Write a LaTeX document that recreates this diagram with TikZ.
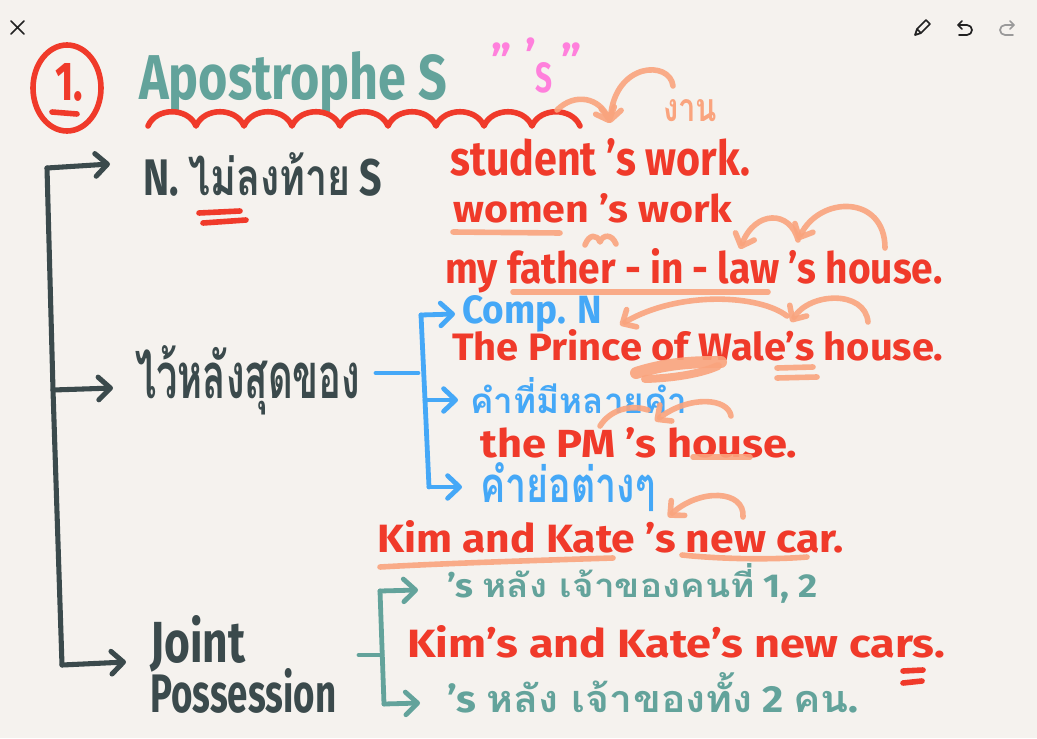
\documentclass[tikz,border=0pt]{standalone}
\usepackage{fontspec}
\setmainfont{Fira Sans}
\newfontfamily\thaifont[Script=Thai]{Loma}
\usetikzlibrary{arrows.meta}
\newlength\pxu
\setlength\pxu{0.75pt}
\newcommand\fitt[3]{\resizebox{#1\pxu}{#2\pxu}{#3}}
\newcommand\tha[1]{{\thaifont #1}}
\definecolor{bgc}{HTML}{F5F2EE}
\definecolor{darkc}{HTML}{3B4A4C}
\definecolor{tealc}{HTML}{63A39B}
\definecolor{redc}{HTML}{F03A2A}
\definecolor{orangec}{HTML}{FAA47E}
\definecolor{bluec}{HTML}{45A8F7}
\definecolor{pinkc}{HTML}{FF80DC}
\definecolor{iconc}{HTML}{222222}
\definecolor{icongray}{HTML}{9A9A9A}
\tikzset{
  txt/.style={anchor=base west, inner sep=0pt, font=\bfseries},
  darkpen/.style={draw=darkc, line width=3.8pt, line cap=round, line join=round},
  bluepen/.style={draw=bluec, line width=3.6pt, line cap=round, line join=round},
  tealpen/.style={draw=tealc, line width=3.6pt, line cap=round, line join=round},
  redpen/.style={draw=redc, line width=4.2pt, line cap=round, line join=round},
  orpen/.style={draw=orangec, line width=4.2pt, line cap=round, line join=round, opacity=0.9},
  iconpen/.style={draw=iconc, line width=1.3pt, line cap=round, line join=round},
  barb/.style={-{Straight Barb[length=9pt,width=17pt,round]}},
  obarb/.style={-{Straight Barb[length=8pt,width=15pt,round]}},
  pinkmark/.style={inner sep=0pt, text=pinkc, font=\bfseries\fontsize{34}{34}\selectfont},
}
\begin{document}
\begin{tikzpicture}[x=0.75pt,y=-0.75pt]
\fill[bgc] (0,0) rectangle (1037,738);
\useasboundingbox (0,0) rectangle (1037,738);

% icons
\draw[iconpen] (11,21) -- (24,34) (24,21) -- (11,34);
\draw[iconpen] (915,35) -- (917,29) -- (926,20) -- (930,24) -- (921,33) -- cycle (917,29) -- (921,33);
\draw[iconpen] (962,21) -- (958,25) -- (962,29) (958,25) -- (967,25) arc[start angle=-90, end angle=90, radius=5] -- (959,35);
\draw[iconpen, draw=icongray] (1010,21) -- (1014,25) -- (1010,29) (1014,25) -- (1005,25) arc[start angle=-90, end angle=-270, radius=5] -- (1013,35);

% title
\draw[redpen] (67,88) ellipse [x radius=34, y radius=43];
\draw[redpen] (52,112) -- (77,114);
\node[txt, text=redc] (one) at (55,100) {\fitt{28}{37}{1.}};
\node[txt, text=tealc] (title) at (139,100) {\fitt{308}{48}{Apostrophe S}};
\draw[redpen] (148,126) \foreach \i in {0,...,8} { .. controls ({156+\i*48},107) and ({188+\i*48},107) .. ({196+\i*48},126) };

% pink
\node[pinkmark] (pq1) at (502,60) {"};
\node[pinkmark] (pap) at (531,55) {’};
\node[txt, text=pinkc] (ps) at (535,93) {\fitt{17}{30}{S}};
\node[pinkmark] (pq2) at (572,60) {"};

% orange annotation near title
\node[txt, text=orangec] (ngan) at (663,122) {\fitt{54}{22}{\tha{งาน}}};
\coordinate (oa1) at (557,110);
\coordinate (oa2) at (673,86);
\coordinate (oat) at (610,123);
\draw[orpen, obarb] (oa1) .. controls (575,92) and (600,98) .. (oat);
\draw[orpen, obarb] (oa2) .. controls (670,60) and (615,62) .. (oat);

% left dark bracket
\coordinate (btop) at (47,168);
\coordinate (bmid) at (53,390);
\coordinate (bbot) at (62,665);
\draw[darkpen] (btop) -- (bmid) -- (bbot);
\coordinate (a1) at (110,164);
\coordinate (a2) at (113,388);
\coordinate (a3) at (126,662);
\draw[darkpen, barb] (btop) -- (a1);
\draw[darkpen, barb] (bmid) -- (a2);
\draw[darkpen, barb] (bbot) -- (a3);

% level-1 labels
\node[txt, text=darkc] (n1) at (143,195) {\fitt{239}{43}{N. \tha{ไม่ลงท้าย} S}};
\draw[redpen] (199,213) -- (240,211) (203,223) -- (246,220);
\node[txt, text=darkc] (n2) at (135,398) {\fitt{225}{53}{\tha{ไว้หลังสุดของ}}};
\node[txt, text=darkc] (n3a) at (150,662) {\fitt{95}{47}{Joint}};
\node[txt, text=darkc] (n3b) at (150,712) {\fitt{186}{44}{Possession}};

% blue bracket
\coordinate (bl0) at (376,373);
\coordinate (bl1) at (418,373);
\coordinate (blt) at (421,315);
\coordinate (blm) at (425,400);
\coordinate (blb) at (429,487);
\draw[bluepen] (bl0) -- (bl1);
\draw[bluepen] (blt) -- (blm) -- (blb);
\coordinate (c1a) at (455,314);
\coordinate (c2a) at (458,400);
\coordinate (c3a) at (462,487);
\draw[bluepen, barb] (blt) -- (c1a);
\draw[bluepen, barb] (blm) -- (c2a);
\draw[bluepen, barb] (blb) -- (c3a);
\node[txt, text=bluec] (c1) at (462,323) {\fitt{140}{28}{Comp. N}};
\node[txt, text=bluec] (c2) at (470,413) {\fitt{217}{36}{\tha{คำที่มีหลายคำ}}};
\node[txt, text=bluec] (c3) at (480,502) {\fitt{175}{40}{\tha{คำย่อต่างๆ}}};

% teal bracket
\coordinate (tl0) at (359,655);
\coordinate (tl1) at (382,655);
\coordinate (tlt) at (380,591);
\coordinate (tlb) at (384,704);
\draw[tealpen] (tl0) -- (tl1);
\draw[tealpen] (tlt) -- (tlb);
\coordinate (g1a) at (418,590);
\coordinate (g2a) at (420,703);
\draw[tealpen, barb] (tlt) -- (g1a);
\draw[tealpen, barb] (tlb) -- (g2a);
\node[txt, text=tealc] (g1) at (447,597) {\fitt{370}{34}{’s \tha{หลัง เจ้าของคนที่} 1, 2}};
\node[txt, text=tealc] (g2) at (447,712) {\fitt{411}{40}{’s \tha{หลัง เจ้าของทั้ง} 2 \tha{คน}.}};

% red examples
\node[txt, text=redc] (e1) at (450,175) {\fitt{300}{37}{student ’s work.}};
\node[txt, text=redc] (e2) at (453,222) {\fitt{279}{29}{women ’s work}};
\node[txt, text=redc] (e3) at (445,283) {\fitt{497}{35}{my father - in - law ’s house.}};
\node[txt, text=redc] (e4) at (452,360) {\fitt{491}{31}{The Prince of Wale’s house.}};
\node[txt, text=redc] (e5) at (480,457) {\fitt{317}{30}{the PM ’s house.}};
\node[txt, text=redc] (e6) at (377,552) {\fitt{466}{32}{Kim and Kate ’s new car.}};
\node[txt, text=redc] (e7) at (407,657) {\fitt{538}{32}{Kim’s and Kate’s new cars.}};
\draw[redpen] (903,671) -- (923,670) (903,683) -- (922,681);

% orange marks on examples
\draw[orpen] (453,232) -- (560,233);
\draw[orpen] (585,245) .. controls (589,234) and (597,234) .. (600,242) .. controls (603,234) and (612,234) .. (616,244);
\draw[orpen] (513,292) -- (768,292);
\coordinate (oc1) at (885,248);
\coordinate (oct) at (798,240);
\coordinate (od2) at (740,249);
\draw[orpen, obarb] (oc1) .. controls (885,195) and (820,195) .. (oct);
\draw[orpen, obarb] (oct) .. controls (790,210) and (755,210) .. (od2);
\coordinate (oe1) at (868,322);
\coordinate (oet) at (791,322);
\coordinate (oft) at (620,325);
\draw[orpen, obarb] (oe1) .. controls (865,290) and (810,292) .. (oet);
\draw[orpen, obarb] (787,316) .. controls (760,295) and (680,290) .. (oft);
\draw[orpen, line width=9pt] (636,373) .. controls (670,362) and (700,362) .. (721,362);
\draw[orpen, line width=6pt] (645,379) .. controls (680,378) and (705,372) .. (718,366);
\draw[orpen] (777,368) -- (813,367) (777,378) -- (817,377);
\coordinate (og1) at (731,416);
\coordinate (ogt) at (655,421);
\draw[orpen, obarb] (og1) .. controls (728,398) and (690,395) .. (ogt);
\draw[orpen] (600,426) .. controls (610,410) and (630,404) .. (648,410);
\draw[orpen] (693,457) -- (750,457);
\coordinate (oh1) at (743,517);
\coordinate (oht) at (668,517);
\draw[orpen, obarb] (oh1) .. controls (745,490) and (700,488) .. (oht);
\draw[orpen] (380,567) .. controls (450,563) and (550,560) .. (613,558);
\draw[orpen] (682,555) .. controls (720,559) and (770,560) .. (807,557);
\end{tikzpicture}
\end{document}
